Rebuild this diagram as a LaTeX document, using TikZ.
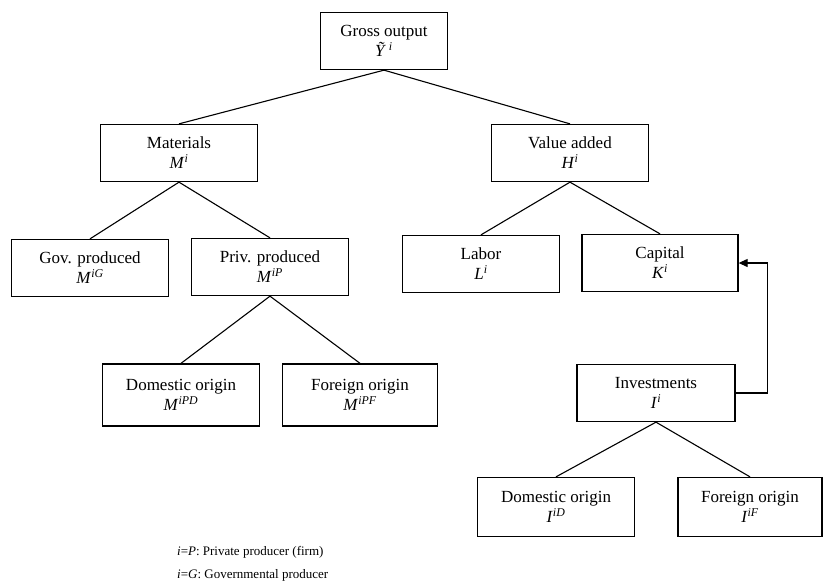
\documentclass[tikz,border=0pt]{standalone}
\usepackage{fontspec}
\setmainfont{Liberation Serif}
\usetikzlibrary{arrows.meta}

\begin{document}
\begin{tikzpicture}[
    x=1pt, y=-1pt,
    block/.style={rectangle, draw, line width=1.3pt, minimum width=157pt, minimum height=57pt, inner sep=2pt, align=center, font=\fontsize{17}{20}\selectfont},
    link/.style={line width=1.1pt},
    arrow/.style={-{Triangle[length=9pt, width=8pt]}, line width=1.1pt},
    note/.style={anchor=base west, inner sep=0pt, font=\fontsize{13}{15}\selectfont}
]
    \useasboundingbox (0,0) rectangle (825,584);

    % Top: gross output and its two parts
    \node[block, minimum width=127pt] (gross) at (384,41) {Gross output \\ \textit{Ỹ}\,\textsuperscript{\textit{i}}};
    \node[block] (mat) at (179,153) {Materials \\ \textit{M}\textsuperscript{\textit{i}}};
    \node[block] (val) at (570,153) {Value added \\ \textit{H}\textsuperscript{\textit{i}}};

    % Left: materials split
    \node[block] (gov) at (90,268) {Gov. produced \\ \textit{M}\textsuperscript{\textit{iG}}};
    \node[block] (priv) at (270,267) {Priv. produced \\ \textit{M}\textsuperscript{\textit{iP}}};
    \node[block, minimum height=62pt] (mdom) at (181,395) {Domestic origin \\ \textit{M}\textsuperscript{\textit{iPD}}};
    \node[block, minimum width=155pt, minimum height=62pt] (mfor) at (360,395) {Foreign origin \\ \textit{M}\textsuperscript{\textit{iPF}}};

    % Right: value added and investments
    \node[block] (labor) at (481,264) {Labor \\ \textit{L}\textsuperscript{\textit{i}}};
    \node[block, minimum width=156pt] (cap) at (660,263) {Capital \\ \textit{K}\textsuperscript{\textit{i}}};
    \node[block, minimum width=158pt] (inv) at (656,393) {Investments \\ \textit{I}\textsuperscript{\textit{i}}};
    \node[block, minimum height=59pt] (idom) at (556,507) {Domestic origin \\ \textit{I}\textsuperscript{\textit{iD}}};
    \node[block, minimum width=144pt, minimum height=59pt] (ifor) at (750,507) {Foreign origin \\ \textit{I}\textsuperscript{\textit{iF}}};

    % Legend
    \node[note] (notep) at (177,555) {\textit{i}=\textit{P}: Private producer (firm)};
    \node[note] (noteg) at (177,578) {\textit{i}=\textit{G}: Governmental producer};

    % Connections
    \draw[link] (gross.south) -- (mat.north);
    \draw[link] (gross.south) -- (val.north);
    \draw[link] (mat.south) -- (gov.north);
    \draw[link] (mat.south) -- (priv.north);
    \draw[link] (priv.south) -- (mdom.north);
    \draw[link] (priv.south) -- (mfor.north);
    \draw[link] (val.south) -- (labor.north);
    \draw[link] (val.south) -- (cap.north);
    \draw[link] (inv.south) -- (idom.north);
    \draw[link] (inv.south) -- (ifor.north);

    % Investments feed capital
    \draw[arrow] (inv.east) -- ++(32,0) |- (cap.east);

\end{tikzpicture}
\end{document}
